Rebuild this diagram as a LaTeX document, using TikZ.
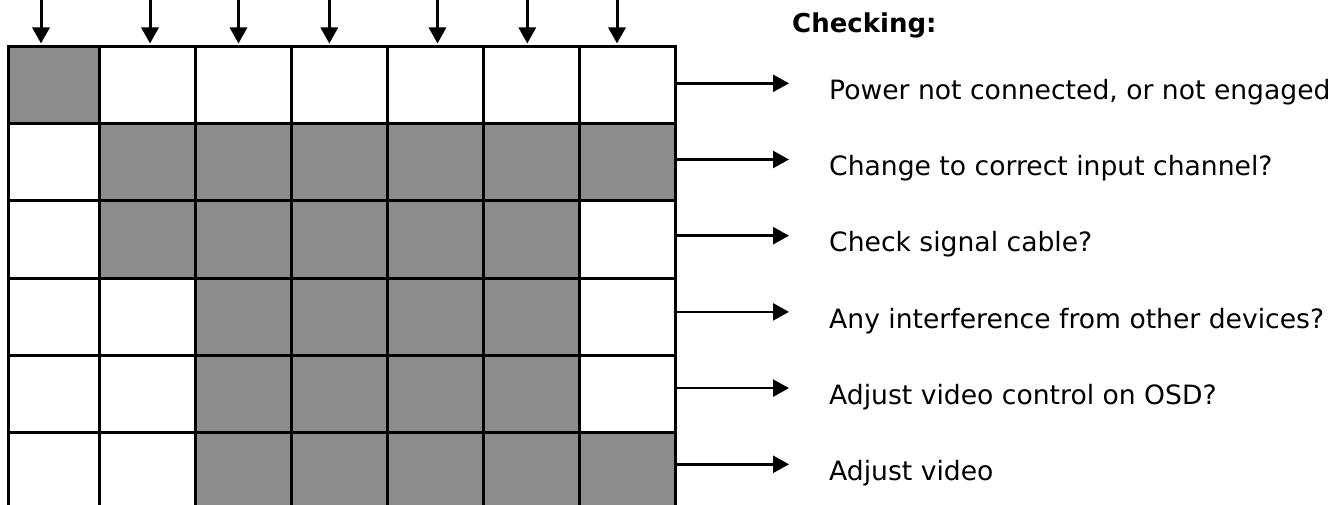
\documentclass[tikz,border=0pt]{standalone}
\usepackage{fontspec}
\setmainfont{DejaVu Sans}
\usetikzlibrary{arrows.meta}
\definecolor{cellgray}{RGB}{140,140,140}
\tikzset{
  gridline/.style={line width=3pt, line cap=rect},
  grayfill/.style={fill=cellgray},
  arr/.style={line width=2.5pt, -{Triangle[length=16pt,width=17pt]}},
  toparr/.style={arr, line width=3pt},
  msg/.style={anchor=base west, inner sep=0pt, font=\fontsize{26.6}{30}\selectfont},
  headtext/.style={anchor=base west, inner sep=0pt, font=\bfseries\fontsize{26}{30}\selectfont},
}
\begin{document}
\begin{tikzpicture}[x=1pt,y=-1pt]
\useasboundingbox (0,0) rectangle (1341,505);
% gray cells
\fill[grayfill] (8,47) rectangle (99,124);
\fill[grayfill] (99,124) rectangle (675,201);
\fill[grayfill] (99,201) rectangle (579,278);
\fill[grayfill] (195,278) rectangle (579,432);
\fill[grayfill] (195,432) rectangle (675,510);
% grid lines
\foreach \yy in {47,124,201,278,355,432}
  \draw[gridline] (8,\yy) -- (675,\yy);
\foreach \xx in {8,99,195,291,387,483,579,675}
  \draw[gridline] (\xx,47) -- (\xx,512);
% top arrows
\foreach \xx [count=\i] in {41,150,238.5,329.3,437.5,527.3,617}{
  \coordinate (ts\i) at (\xx,-3);
  \coordinate (te\i) at (\xx,43.5);
  \draw[toparr] (ts\i) -- (te\i);
}
% heading
\node[headtext] (heading) at (792,32.3) {Checking:};
% right arrows and messages
\foreach \t [count=\i] in {Power not connected{,} or not engaged,
  Change to correct input channel?,
  Check signal cable?,
  Any interference from other devices?,
  Adjust video control on OSD?,
  Adjust video}{
  \pgfmathsetmacro{\ay}{83.3+76.2*(\i-1)}
  \pgfmathsetmacro{\by}{99.5+76.2*(\i-1)}
  \coordinate (rs\i) at (674,\ay);
  \coordinate (re\i) at (789,\ay);
  \draw[arr] (rs\i) -- (re\i);
  \node[msg] (m\i) at (829,\by) {\t};
}
\end{tikzpicture}
\end{document}
